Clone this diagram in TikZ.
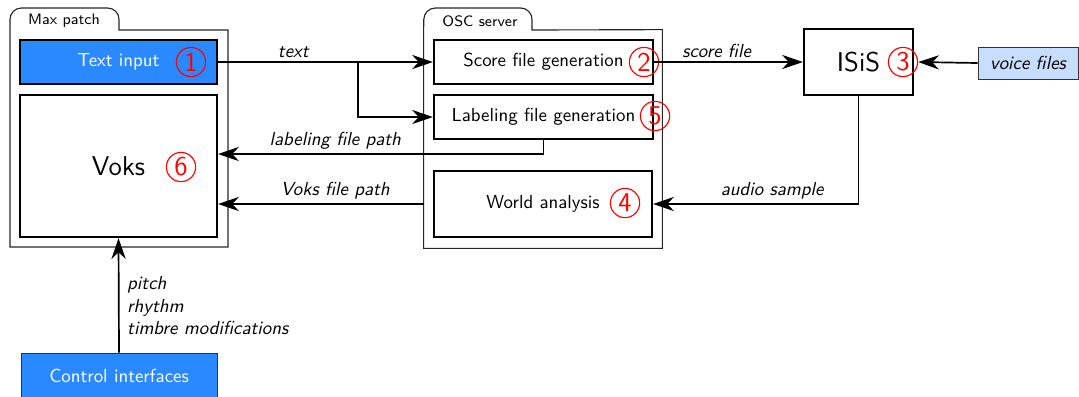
\documentclass[tikz,border=0pt]{standalone}
\usetikzlibrary{arrows.meta}
\renewcommand{\familydefault}{\sfdefault}
\definecolor{bluebox}{RGB}{42,137,255}
\definecolor{lightbox}{RGB}{200,222,255}
\begin{document}
\begin{tikzpicture}[x=0.53pt,y=-0.53pt,
  box/.style={draw, line width=1.2pt, inner sep=0pt},
  cont/.style={draw=black!85, line width=0.6pt},
  arr/.style={line width=0.9pt, -{Stealth[length=11pt,width=7.5pt,inset=3.5pt]}},
  lbl/.style={font=\itshape, inner sep=2pt},
  num/.style={circle, draw=red, text=red, line width=0.6pt, font=\Large, inner sep=0pt, minimum size=15.5pt},
  tab/.style={font=\footnotesize}]
\useasboundingbox (0,0) rectangle (1079,396);
% containers
\draw[cont] (10,247) -- (10,30) [rounded corners=6pt] -- (10,8) -- (119,8) [sharp corners] -- (119,30) -- (228,30) -- (228,247) -- cycle;
\node[tab] (maxtab) at (64,21) {Max patch};
\node[minimum width={238*0.53pt}, minimum height={218*0.53pt}, inner sep=0pt] (osc) at (543,139) {};
\draw[cont] (osc.south west) -- (osc.north west) [rounded corners=6pt] -- (424,8) -- (532,8) [sharp corners] -- (532,30) -- (osc.north east) -- (osc.south east) -- cycle;
\node[tab] (osctab) at (480,21) {OSC server};
% boxes
\node[box, fill=bluebox, text=white, minimum width={197*0.53pt}, minimum height={44*0.53pt}] (tin) at (118.5,62) {Text input};
\node[box, minimum width={197*0.53pt}, minimum height={142*0.53pt}, font=\Large] (voks) at (118.5,166) {Voks};
\node[box, minimum width={219*0.53pt}, minimum height={44*0.53pt}] (score) at (543.5,62) {Score file generation};
\node[box, minimum width={219*0.53pt}, minimum height={44*0.53pt}] (label) at (543.5,117) {Labeling file generation};
\node[box, minimum width={218*0.53pt}, minimum height={66*0.53pt}] (world) at (543,204) {World analysis};
\node[box, minimum width={109*0.53pt}, minimum height={66*0.53pt}, font=\Large] (isis) at (858.5,62) {ISiS};
\node[draw=black!80, line width=0.5pt, fill=lightbox, font=\itshape, minimum width={100*0.53pt}, minimum height={32*0.53pt}, inner sep=0pt] (voice) at (1028,63) {voice files};
\node[draw=black!80, line width=0.5pt, fill=bluebox, text=white, minimum width={196*0.53pt}, minimum height={46*0.53pt}, inner sep=0pt] (ctrl) at (119,376) {Control interfaces};
% numbers
\node[num] (n1) at (191,62) {1};
\node[num] (n2) at (644,62) {2};
\node[num] (n3) at (903,62) {3};
\node[num] (n4) at (625,203) {4};
\node[num] (n5) at (655,116) {5};
\node[num] (n6) at (181,167) {6};
% connectors
\coordinate (br) at (358,62);
\draw[arr] (tin.east) -- node[lbl, above, pos=0.35] {text} (score.west);
\draw[arr] (br) |- (label.west);
\draw[arr] (score.east) -- node[lbl, above, pos=0.42] {score file} (isis.west);
\draw[arr] (voice.west) -- (n3.east);
\draw[arr] (isis.south) |- node[lbl, above, pos=0.71] {audio sample} (world.east);
\draw[arr] (label.south) |- node[lbl, above, pos=0.82] {labeling file path} (voks.east |- 0,154);
\draw[arr] (osc.west |- world.west) -- node[lbl, above, pos=0.43] {Voks file path} (voks.east |- world.west);
\draw[arr] (ctrl.north) -- node[lbl, right, align=left, pos=0.41, inner sep=4pt] {pitch\\rhythm\\timbre modifications} (voks.south);
\end{tikzpicture}
\end{document}
